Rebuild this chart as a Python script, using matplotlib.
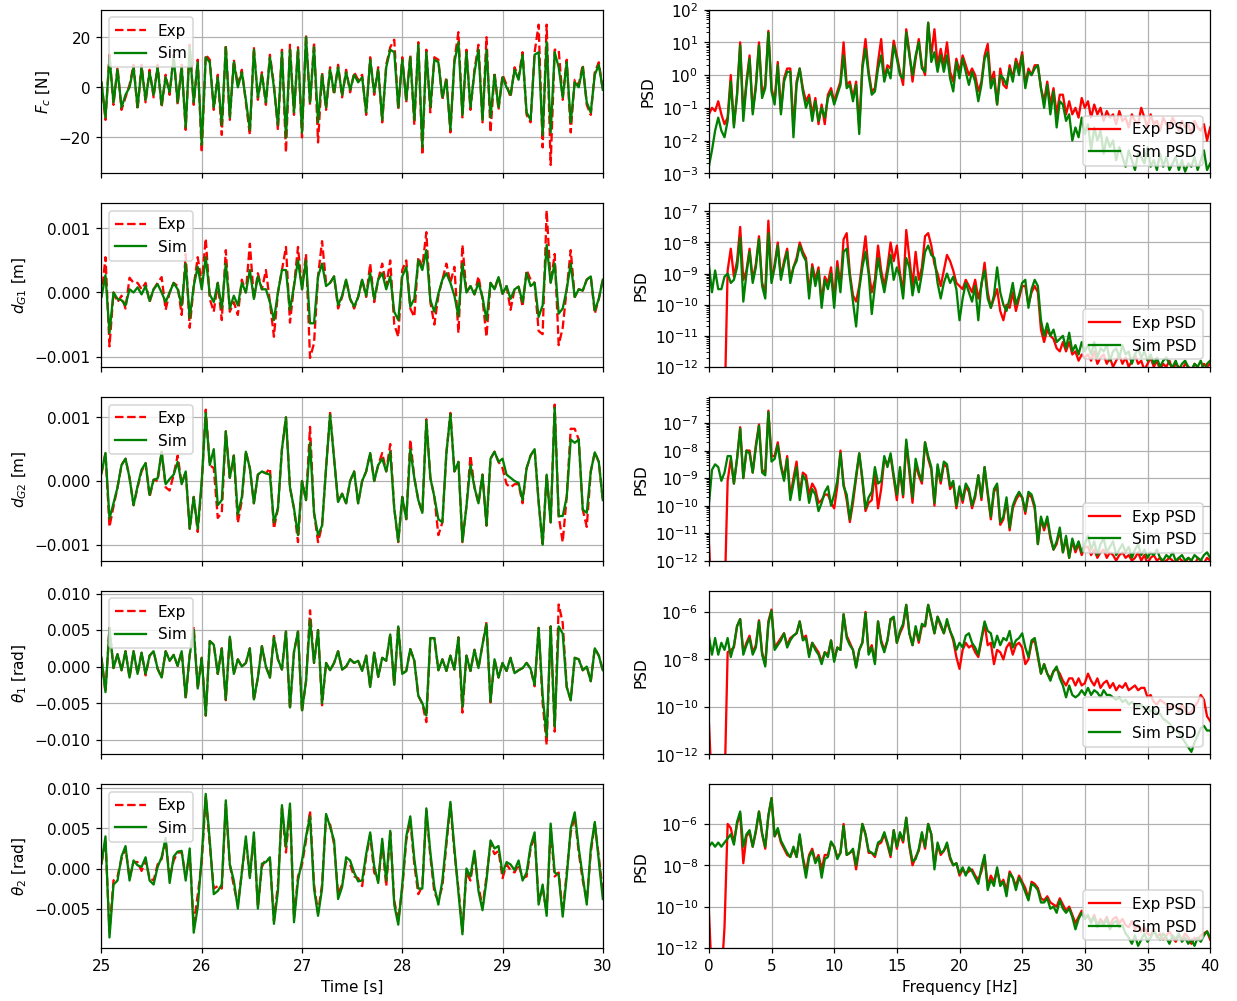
import numpy as np
import matplotlib
matplotlib.use("Agg")
import matplotlib.pyplot as plt

# Sample grids
time = 25.0 + 0.04 * np.arange(126)      # s
freq = 0.25 * np.arange(161)             # Hz

# ---- Time-domain signals ----
# Contact force [N]
fc_exp = [2, -13, 13, -7, 8, -9, -4, 1, 9, -9,
          9, -6, 7, -4, 9, -8, 5, -3, 13, -7,
          9, -17, 17, -7, 11, -26, 13, 11, -9, 5,
          -19, 17, -13, 11, 1, 7, -6, -19, 16, -5,
          6, -7, 13, 1, -17, 15, -26, 17, -11, 16,
          -20, 21, -7, 18, -22, 6, -9, 8, -3, 9,
          -4, 7, -2, 6, 3, 5, -11, 12, -3, 8,
          -14, 9, 16, 19, -9, 12, -6, 13, -15, 18,
          -27, 15, -10, 12, 11, -5, 4, -18, 11, 22,
          -12, 15, -9, 7, 17, -14, 20, -18, 6, -9,
          5, 1, -4, 8, 4, 14, -11, -14, 14, 25,
          -24, 25, -31, 15, 15, -5, 11, -18, 3, 1,
          9, -7, -11, 6, 10, -1]
fc_sim = [2, -12, 12, -6, 7, -8, -3, 0, 8, -8,
          8, -5, 6, -3, 8, -7, 4, -2, 12, -6,
          8, -16, 16, -6, 10, -23, 12, 10, -8, 4,
          -15, 16, -12, 10, 0, 6, -5, -17, 15, -4,
          5, -6, 12, 0, -15, 14, -20, 15, -10, 15,
          -18, 20, -6, 16, -14, 5, -8, 7, -2, 8,
          -3, 6, -1, 5, 2, 4, -10, 11, -2, 7,
          -13, 8, 15, 14, -8, 11, -5, 12, -13, 17,
          -24, 14, -8, 11, 10, -4, 3, -17, 10, 18,
          -11, 14, -8, 6, 15, -13, 15, -12, 5, -8,
          4, 0, -3, 7, 3, 13, -10, -13, 13, 14,
          -19, 18, -18, 14, 8, -4, 10, -14, 2, 0,
          8, -6, -10, 5, 9, -1]

# Gap displacement 1 [1e-4 m]
dg1_exp = [-0.7, 5.5, -8.4, 0, -1.5, -0.5, -2.5, 2.3, 1.5, 1.5,
           0.5, 1.5, -1.5, 0.5, 1.5, 2.4, -2.7, 0, 1.5, 1,
           -3.5, 6, -5.5, 1, 5.5, 1.5, 8.4, -1, -3, 1.5,
           -4.3, 6.6, -3, -1.5, -3.5, 2, 0, 7.6, -1, 3,
           0.5, 3.5, -1.5, -6.9, 0, 3.5, 7.1, -4.7, 1, 7.1,
           0.5, 6, -10.2, -7.9, 2.5, 8, 1.5, 1.5, 2.5, -2.5,
           -0.7, 2, -1, -2.5, -0.7, 2, -0.7, 4.5, -1.5, 2,
           4.5, 1, 5, -5, -6.9, 3.5, 5, -2.5, -3.8, 5.5,
           4, 9.4, -1.5, -5, -0.5, 2, 4.5, 1.5, 4, -6.3,
           7.4, 0, 1, -0.3, 2.5, -1, -6.9, 1.5, 0.5, 2.4,
           -0.2, 1, -2.7, 0.5, 0.9, -2.2, 3.5, 2, 1.5, -6,
           -6.5, 12.8, 1.5, 6, -8.2, -5.5, 0.5, 6.6, -0.7, 0.5,
           0.3, 2, 2.5, -3.3, -1, 2]
dg1_sim = [-0.7, 2.7, -6.3, 0, -1, -1.2, -2, 0.5, 0, 0.8,
           -0.3, 1, -1.3, 0.5, 1.3, 0, -1.5, 0, 1.5, 0.5,
           -2, 4.5, -4, 1, 4, 0.5, 5.5, -0.3, -1.5, 1.5,
           -2.5, 4.5, -2.5, -0.5, -2, 1.5, 0, 3.5, -1, 2.5,
           0.5, 0.5, -1.5, -4.3, 0, 3.5, 3.5, -2.7, 1, 5,
           0.5, 5, -4.8, -4.8, 2.5, 4.5, 1, 1.5, 2.5, -2,
           -0.5, 2, -1, -2.2, -0.7, 2, -0.5, 3, -1, 2,
           3, 0.5, 2.5, -3, -4.3, 2.5, 4, -2.2, -1, 5,
           3.5, 6.6, -1.2, -3, -0.2, 2, 3, 1.5, -0.5, -3.7,
           4.5, 0, 1, -0.3, 1.5, -0.7, -4.3, 1.5, 0.5, 2.4,
           -0.2, 1, -1, 0.5, 0.9, -1.5, 3, 1, 1.5, -3.8,
           -2, 7.4, 1.5, 4.5, -3.3, -2.5, 0.5, 4.5, -0.7, 0.5,
           0.3, 2, 2.5, -2.8, -1, 2]

# Gap displacement 2 [1e-4 m]
dg2_exp = [1.2, 4.4, -7.2, -4, -1, 2.5, 3.5, 0.5, -3.8, -1,
           1.5, 2.8, -2.5, 0.2, 0, 4.6, -1, -1.5, 1.0, 4.0,
           -0.5, 1.5, -7.5, -2.5, -8.0, -0.5, 11.2, 2.5, 2, -5.8,
           -5, 7.8, 0.5, 4, -6.6, -3, 4.6, 2, -3.5, 1.0,
           1.5, 1.2, 2.0, -7.5, -4.3, 5, 10, -1, -4.3, -9.6,
           0, -3, 8.5, -5, -9.6, -7, 2, 10.7, 3.5, -3.3,
           -2, -3.5, 0, 1.5, -3.5, 0, 1.5, 4.4, 0, 2.5,
           4.4, 1.5, 5.8, -4.3, -9.6, -2.5, -6, 6.5, 0.5, -3,
           -5, 9.7, 0.5, -2.5, -8.5, -6.5, 4.4, 10.7, 1.5, 3,
           -9.6, -4, 4, -1, -3.5, 1, -7, 3.5, 4.6, 3,
           2, -0.5, -1, -0.5, -0.5, -3.5, 2, 4, 5, -3.3,
           -10.2, 1, -6.5, 12, -5.5, -9.6, -2.5, 8.2, 8.2, 6.5,
           -4.5, -7.2, 1.5, 4.5, 3, -3]
dg2_sim = [1.2, 4.4, -5.9, -3.5, -1, 2.5, 3.5, 0.5, -3.8, -0.8,
           1.8, 2.8, -2.2, 0.2, 0.4, 4.6, -0.5, 0.3, 1.0, 3.0,
           -0.5, 1.5, -7.5, -2.5, -7.5, 0, 10.7, 2.5, 5, -3.8,
           -3, 7.8, 0.5, 4, -5.3, -2.5, 4.6, 2, -3.5, 1.0,
           1.5, 1.2, 1.0, -6.5, -4.3, 5, 10, -1, -4.3, -8.5,
           0, -3, 6, -5, -8.5, -7, 2, 10.4, 3.5, -3.3,
           -2, -3.5, 0, 1.5, -3.5, 0, 1.5, 4.4, 0, 2.5,
           3.5, 1.5, 4.6, -4.3, -9.5, -2.5, -6, 5, 0.5, -3,
           -5, 9.5, 0.5, -2.5, -6, -6.5, 4.4, 10.5, 1.5, 3,
           -9.5, -4, 2.5, -1, -3.5, 1, -7, 3.5, 4.6, 3,
           3.5, 1, 0.5, 0, -0.3, -3, 2, 4, 5, -3.3,
           -10, 1, -6.5, 11.5, -5.5, -5.5, -2.5, 6.5, 6, 6.5,
           -4.5, -5, 1.5, 4.5, 3, -3]

# Rotation 1 [1e-3 rad]
th1_exp = [1.2, -3.5, 5.3, -0.2, 1.7, -0.5, 2.1, -1.5, 2.1, -1,
           1.9, -1.2, 1.5, 2.1, -0.3, -1.5, 2.1, 0.8, 1.6, 0.1,
           2.1, -4.4, 1.6, 5.5, -3, 1.2, -6.7, 3.5, 3, -1,
           2.5, -4.6, 4.1, -1, 1, 0, 0.5, 2.5, -4.6, -1.5,
           2.8, 0, -1.5, 4.2, 1, -0.4, 4.8, -5.8, 2.0, 4.8,
           -6.2, -2, 7.7, 0.5, 5, -5.3, 0.5, -0.5, 0.5, 2.1,
           -0.4, 0, 1, 0.5, 0.8, -0.6, 1.5, -2.8, 1.9, -1.4,
           1.2, 0.8, 4.4, -2.5, 5.6, -1, -0.6, 2.4, 0.8, -4,
           -5.1, -7.6, 3.9, 3.9, -0.5, 1, -0.6, 1.5, -0.4, 4,
           -6.3, 1.5, -0.6, 2.3, -0.2, 3, 6.1, -4.9, 1, -1.5,
           0.5, -0.6, 1.2, -0.9, -0.5, -0.2, 0.5, -0.3, -2.7, 5.3,
           -5, -10.7, 5.5, -8.9, 8.5, 6, -2.8, -4.6, 1.2, 1,
           -0.5, 0, -2, 2.5, 1.5, -0.5]
th1_sim = [1.2, -3.5, 5.3, -0.2, 1.7, -0.5, 2.1, -1.5, 2.1, -1,
           1.9, -1, 1.5, 2.1, -0.3, -1.5, 2.1, 0.8, 1.6, 0.1,
           2.1, -4.2, 1.6, 5, -3, 1.2, -6.7, 3.5, 3, -1,
           2.5, -4.5, 4.1, -1, 1, 0, 0.5, 2.5, -4.5, -1.5,
           2.8, 0, -1.5, 4, 1, -0.4, 4.8, -5.6, 2.0, 4.8,
           -6, -2, 6.4, 0.5, 5, -5, 0.5, -0.5, 0.5, 2.1,
           -0.4, 0, 1, 0.5, 0.8, -0.6, 1.5, -2.8, 1.9, -1.4,
           1.2, 0.8, 4.4, -2.5, 5.5, -1, -0.6, 2.4, 0.8, -4,
           -5, -6.7, 3.9, 3.9, -0.5, 1, -0.6, 1.5, -0.4, 4,
           -5.5, 1.5, -0.6, 2.3, -0.2, 3, 5.8, -4.8, 1, -1.5,
           0.5, -0.6, 1.2, -0.9, -0.5, -0.2, 0.5, -0.3, -2.5, 5.3,
           -4, -9.6, 5.5, -8.2, 5.5, 4.5, -2.8, -4.6, 1.2, 1,
           -0.5, 0, -2, 2.5, 1.5, -0.5]

# Rotation 2 [1e-3 rad]
th2_exp = [0.6, 3.5, -7.8, -1.5, -1, 1.2, 2.5, -1.2, 0.8, 0.8,
           -0.3, 1.0, -1.2, -1.5, 0.5, 1.2, 3.5, -1.2, 1.0, 2.0,
           2.0, -1.0, 1.8, -7.0, -3.3, 0.8, 9.0, 3.0, -2.5, -2.2,
           -2.5, 8.0, 0.5, -2.2, -4.5, -0.5, 3.5, -1.0, 4.0, -4.8,
           0.2, 1.2, 1.0, -6.5, -2.0, 7.5, 2.0, 7.6, -6.2, -1.0,
           0.5, 3.5, 7.2, -2.0, -5.5, -2.0, 6.5, 5.5, 3.0, -3.2,
           -2.0, 0.8, 0.5, -1.0, -1.2, -2.2, 1.5, 4.2, -0.5, -1.5,
           3.2, -2.2, 4.5, -4.0, -6.5, -2.5, 3.5, 6.0, 0.5, -3.2,
           -2.2, 7.2, 1.5, -3.0, -4.0, -2.2, 3.0, 8.0, 2.0, -2.5,
           -7.8, -0.5, -1.5, 1.8, -2.2, -4.8, -1.0, 3.0, 1.8, 2.2,
           -1.2, 0.5, -0.2, -0.5, 0.5, -1.2, -1.0, 2.5, 4.0, -4.0,
           -2.5, -5.5, 5.0, -1.0, -0.5, -5.5, -0.5, 4.5, 6.5, 2.0,
           -1.5, -4.0, 2.0, 5.5, 1.5, -3.0]
th2_sim = [0.6, 4.0, -8.6, -2, -1.5, 1.5, 2.8, -1.5, 1, 0.4,
           0.2, 1.4, -1.5, -2, 0.2, 1.4, 3.8, -1.8, 1.5, 2.1,
           2.2, -1.5, 2.5, -8, -4.8, 1.5, 9.3, 3.5, -3.2, -2.8,
           -2, 8.5, 0.5, -1.5, -5, -0.5, 4, -1.2, 4.5, -5,
           0.6, 0.8, 1.4, -6.9, -2.8, 7.9, 2.7, 8.1, -6.7, -1.5,
           1, 4, 6.5, -2.5, -5.9, -2.5, 6.8, 5.2, 3.5, -3.8,
           -2.3, 1.4, 1, -0.5, -1.6, -1.5, 1.8, 4.5, 0.3, -1.8,
           3.7, -1.5, 4.7, -4.5, -7, -2, 4, 6.5, 1.2, -2.5,
           -2.5, 7.5, 2, -2.3, -4.5, -1.5, 3.5, 8.3, 2.5, -3,
           -8.2, 0, -1, 2.2, -2.8, -5.2, -1.5, 3.5, 2.5, 2.8,
           -0.6, 0.8, 0.5, -0.2, 1, -1.5, -0.5, 2.8, 4.5, -4.5,
           -2, -5.9, 5.6, -0.5, -0.8, -6, -1, 5, 7, 2.5,
           -1, -4.5, 2.5, 5.8, 1, -3.8]

# ---- Power spectral densities, log10 values ----
psd_fc_exp = [-1.2, -1.0, -1.1, -0.8, -1.2, -1.5, -1.3, 0.0,
              -1.5, -0.6, 1.0, -1.2, -0.2, 0.6, -1.1, -0.3,
              1.0, -0.6, -0.3, 1.35, -0.4, -0.8, 0.4, -1.1,
              -0.1, 0.2, 0.2, -1.6, -0.2, 0.2, -0.4, -0.8,
              -0.6, -1.2, -0.7, -1.5, -0.9, -1.5, -0.6, -0.4,
              -0.8, -0.5, -0.2, 1.0, -0.3, -0.2, -0.7, -0.2,
              -1.6, 0.3, 1.1, 0.1, -0.5, -0.4, 0.4, 1.1,
              -0.1, 0.3, 0.2, 1.05, 0.6, 0.1, -0.3, 1.4,
              0.7, -0.2, 0.5, 1.1, 0.3, 0.0, 1.6, 0.6,
              1.4, 0.3, 0.8, 0.3, 1.0, 0.1, -0.2, 0.5,
              0.1, 0.6, 0.3, 0.0, 0.2, 0.0, -0.5, -0.2,
              0.6, 0.95, -0.2, 0.1, -0.9, 0.2, -0.3, -0.4,
              0.3, -0.1, 0.5, 0.2, 0.7, -0.3, 0.2, 0.0,
              0.3, 0.3, -0.4, -0.8, -0.2, -0.9, -0.4, -1.2,
              -0.6, -0.6, -1.2, -0.8, -1.2, -1.0, -1.3, -0.7,
              -1.0, -0.8, -1.3, -0.9, -1.2, -1.0, -1.4, -1.1,
              -1.3, -1.2, -1.5, -1.1, -1.4, -1.3, -1.6, -1.2,
              -1.4, -1.5, -1.0, -1.3, -1.6, -1.2, -1.5, -1.4,
              -1.7, -1.3, -1.5, -1.6, -1.3, -1.5, -1.7, -1.4,
              -1.6, -1.5, -1.8, -1.4, -1.6, -1.7, -1.5, -2.0,
              -1.6]
psd_fc_sim = [-2.8, -2.3, -1.7, -1.3, -1.7, -1.9, -1.4, -0.2,
              -1.6, -0.6, 0.9, -1.4, -0.3, 0.5, -1.2, -0.4,
              0.9, -0.7, -0.4, 1.3, -0.5, -0.9, 0.3, -1.2,
              -0.2, 0.1, 0.1, -1.9, -0.3, 0.2, -0.5, -1.0,
              -0.7, -1.4, -0.8, -1.4, -1.0, -1.3, -0.7, -0.5,
              -0.9, -0.6, -0.3, 0.6, -0.4, -0.3, -0.8, -0.3,
              -1.8, 0.2, 0.8, 0.0, -0.6, -0.5, 0.2, 0.6,
              -0.2, 0.2, -0.1, 0.9, 0.5, 0.0, -0.1, 1.3,
              0.6, 0.0, 0.6, 1.0, 0.2, 0.1, 1.6, 0.4,
              0.7, 0.1, 0.6, 0.1, 0.6, -0.1, -0.5, 0.4,
              -0.1, 0.5, 0.1, -0.3, 0.1, -0.2, -0.8, -0.3,
              0.5, 0.7, -0.4, -0.1, -0.9, 0.0, -0.1, -0.3,
              0.2, -0.2, 0.4, 0.0, 0.6, -0.4, 0.1, 0.0,
              0.2, 0.3, -0.4, -1.0, -0.3, -1.2, -0.5, -1.6,
              -0.8, -0.9, -1.4, -1.2, -2.0, -1.6, -1.9, -1.3,
              -1.8, -1.5, -2.3, -1.6, -2.0, -1.7, -2.4, -1.9,
              -2.2, -2.0, -2.6, -2.2, -2.5, -2.8, -2.3, -2.6,
              -2.9, -2.4, -2.5, -2.7, -2.2, -2.8, -2.6, -2.9,
              -2.4, -2.8, -2.5, -2.9, -2.7, -2.5, -2.9, -2.6,
              -2.95, -2.7, -2.8, -2.5, -2.9, -2.6, -2.3, -2.9,
              -2.7]

psd_dg1_exp = [-13.5, -13.5, -13.5, -13.5, -13.5, -13.5, -8.9, -8.2,
               -9.1, -8.6, -7.5, -9.2, -8.9, -8.2, -9.2, -8.7,
               -7.8, -9.3, -9.6, -7.3, -9.2, -8.7, -8.0, -9.1,
               -8.6, -8.2, -9.2, -8.8, -8.5, -8.0, -8.3, -8.5,
               -9.6, -8.7, -9.2, -8.8, -9.9, -9.1, -9.3, -8.8,
               -9.8, -8.6, -9.4, -7.9, -7.7, -9.0, -9.7, -9.9,
               -9.4, -8.6, -7.8, -8.9, -9.6, -9.2, -8.1, -8.9,
               -9.4, -8.8, -8.0, -8.6, -8.1, -9.0, -9.6, -7.6,
               -8.5, -9.4, -8.3, -9.2, -8.8, -7.8, -7.7, -8.1,
               -8.7, -9.0, -9.4, -8.9, -8.4, -8.6, -8.9, -9.3,
               -9.4, -9.5, -9.2, -9.4, -9.6, -9.2, -9.8, -9.4,
               -8.65, -9.6, -10.1, -9.8, -9.5, -10.2, -10.5, -10.0,
               -10.1, -9.6, -10.2, -9.8, -9.4, -9.4, -10.0, -9.6,
               -9.4, -9.6, -10.8, -11.2, -10.8, -11.0, -11.1, -11.4,
               -11.5, -11.2, -11.5, -11.2, -11.6, -11.5, -11.8, -11.6,
               -11.7, -11.6, -11.8, -11.5, -11.9, -11.7, -11.6, -11.9,
               -11.7, -12.0, -11.8, -11.6, -11.9, -11.7, -12.0, -11.8,
               -11.6, -11.9, -11.8, -12.1, -11.9, -11.7, -12.0, -11.8,
               -12.1, -11.9, -12.0, -11.8, -12.1, -11.9, -12.0, -12.1,
               -11.9, -12.0, -12.2, -11.9, -12.0, -12.1, -11.9, -12.0,
               -11.9]
psd_dg1_sim = [-8.7, -9.6, -8.9, -9.5, -9.5, -9.1, -9.0, -9.3,
               -9.2, -8.8, -7.85, -9.9, -9.0, -8.3, -9.3, -8.8,
               -7.9, -9.4, -9.8, -7.7, -9.3, -8.8, -8.1, -9.2,
               -8.7, -8.3, -9.3, -8.8, -8.6, -8.1, -8.4, -8.6,
               -9.8, -8.8, -9.4, -8.9, -10.1, -9.2, -9.5, -9.0,
               -10.1, -8.8, -9.6, -8.3, -8.2, -9.1, -9.9, -10.7,
               -9.5, -8.8, -8.3, -9.0, -10.3, -9.4, -8.5, -9.1,
               -9.6, -9.0, -8.4, -9.2, -8.8, -9.1, -9.8, -8.5,
               -8.8, -9.7, -9.1, -9.6, -9.0, -8.3, -8.1, -8.4,
               -8.5, -9.3, -9.8, -9.3, -9.0, -9.3, -9.1, -9.5,
               -10.5, -9.8, -9.3, -9.6, -9.9, -9.4, -10.5, -9.3,
               -8.9, -9.8, -10.1, -9.7, -8.8, -9.6, -10.0, -10.2,
               -9.8, -9.3, -10.0, -9.7, -9.3, -9.2, -10.1, -9.5,
               -9.2, -9.4, -10.5, -11.0, -10.6, -11.0, -10.8, -11.2,
               -11.1, -11.0, -11.4, -10.9, -11.5, -11.3, -11.6, -11.2,
               -11.5, -11.3, -11.6, -11.2, -11.7, -11.4, -11.5, -11.3,
               -11.8, -11.5, -11.4, -11.7, -11.3, -11.6, -11.5, -11.9,
               -11.6, -11.4, -11.7, -11.5, -11.8, -11.6, -11.9, -11.7,
               -12.0, -11.8, -11.7, -11.9, -12.0, -11.8, -12.1, -11.9,
               -11.8, -12.0, -12.1, -11.9, -12.0, -11.8, -12.1, -11.9,
               -11.8]

psd_dg2_exp = [-11.3, -13.5, -13.5, -13.5, -13.5, -13.5, -9.1, -8.3,
               -9.2, -8.3, -7.15, -9.0, -8.0, -8.0, -8.8, -7.8,
               -7.05, -8.7, -8.8, -6.55, -8.2, -8.2, -7.7, -8.5,
               -9.0, -8.2, -9.7, -9.0, -8.4, -9.6, -8.8, -8.9,
               -9.6, -9.2, -9.4, -9.9, -9.8, -9.6, -9.6, -9.9,
               -10.1, -9.3, -8.0, -9.2, -9.8, -10.6, -9.9, -9.0,
               -8.1, -9.1, -10.2, -9.9, -9.8, -8.8, -10.1, -9.4,
               -8.3, -8.5, -8.2, -9.0, -9.8, -8.7, -9.7, -7.7,
               -8.8, -9.9, -8.5, -8.9, -9.2, -7.7, -8.3, -8.7,
               -10.0, -8.6, -9.2, -8.5, -8.6, -9.4, -9.2, -10.1,
               -9.4, -9.9, -9.3, -9.5, -10.1, -9.7, -8.9, -9.8,
               -8.6, -9.6, -10.5, -9.5, -9.3, -10.7, -10.5, -9.8,
               -10.9, -10.1, -9.8, -9.6, -9.7, -10.3, -9.6, -9.7,
               -10.1, -11.4, -10.5, -10.9, -10.5, -11.2, -11.6, -11.4,
               -10.9, -11.7, -11.2, -11.9, -11.3, -11.7, -11.4, -11.8,
               -11.5, -11.5, -11.8, -11.6, -11.9, -11.7, -11.6, -11.9,
               -11.7, -11.8, -12.0, -11.8, -11.7, -11.9, -11.8, -12.0,
               -11.9, -11.7, -12.0, -11.8, -12.1, -11.9, -11.8, -12.0,
               -11.9, -12.1, -12.0, -11.9, -12.0, -12.1, -11.9, -12.0,
               -12.1, -11.9, -12.0, -12.2, -11.9, -12.0, -12.1, -11.9,
               -12.0]
psd_dg2_sim = [-10.0, -8.7, -8.5, -8.6, -9.1, -8.8, -8.2, -8.2,
               -9.2, -8.3, -7.2, -9.0, -8.0, -8.1, -8.8, -7.9,
               -7.1, -8.8, -8.9, -6.6, -8.4, -8.3, -7.8, -8.6,
               -9.1, -8.3, -9.8, -9.2, -8.6, -9.8, -8.9, -9.1,
               -9.9, -9.4, -9.6, -10.2, -9.9, -9.5, -9.3, -10.0,
               -9.6, -9.1, -8.1, -9.3, -9.6, -10.5, -9.7, -8.9,
               -8.1, -9.0, -10.1, -9.7, -9.5, -8.6, -9.2, -9.1,
               -8.2, -8.6, -8.1, -8.9, -9.6, -8.6, -9.6, -7.6,
               -8.6, -9.7, -8.3, -8.8, -9.1, -7.7, -8.2, -8.6,
               -9.9, -8.5, -9.1, -8.4, -8.5, -9.3, -9.1, -10.0,
               -9.3, -9.8, -9.2, -9.4, -10.0, -9.6, -8.9, -9.7,
               -8.6, -9.5, -10.4, -9.4, -9.2, -10.6, -10.4, -9.7,
               -10.8, -10.0, -9.7, -9.5, -9.7, -10.2, -9.5, -9.6,
               -10.0, -11.4, -10.4, -10.8, -10.4, -11.1, -11.6, -11.3,
               -10.8, -11.7, -11.1, -11.9, -11.2, -11.6, -11.3, -11.7,
               -11.4, -11.1, -11.6, -11.3, -11.8, -11.4, -11.2, -11.7,
               -11.5, -11.3, -11.8, -11.6, -11.4, -11.7, -11.5, -11.9,
               -11.6, -11.4, -11.8, -11.6, -11.9, -11.7, -11.8, -11.6,
               -11.9, -12.0, -11.8, -11.9, -11.7, -12.0, -11.9, -11.8,
               -12.0, -11.9, -12.0, -11.8, -11.9, -12.0, -11.8, -11.7,
               -11.9]

psd_th1_exp = [-10.6, -13.5, -13.5, -13.5, -13.5, -13.5, -7.7, -7.6,
               -7.5, -6.6, -6.3, -7.7, -7.3, -7.0, -7.7, -7.4,
               -6.35, -7.7, -8.2, -6.4, -5.9, -7.5, -7.3, -7.1,
               -6.9, -7.4, -7.1, -7.0, -6.9, -6.4, -7.1, -7.0,
               -7.8, -7.3, -7.5, -7.7, -8.1, -7.7, -7.8, -7.2,
               -8.0, -7.5, -7.6, -6.1, -7.0, -7.3, -7.6, -8.3,
               -7.6, -7.3, -6.0, -7.7, -7.4, -8.1, -6.4, -7.2,
               -7.6, -7.2, -6.3, -6.3, -7.3, -6.9, -6.6, -5.7,
               -6.9, -7.4, -6.7, -7.3, -6.6, -6.6, -5.7, -6.3,
               -6.9, -6.2, -6.6, -6.9, -6.4, -6.8, -7.2, -7.9,
               -8.4, -7.6, -7.3, -7.5, -7.4, -7.7, -7.9, -7.2,
               -6.5, -7.4, -7.3, -8.2, -7.6, -7.7, -8.0, -7.5,
               -7.3, -7.8, -7.4, -7.3, -7.5, -8.2, -8.0, -7.3,
               -7.2, -7.9, -8.6, -8.2, -8.6, -8.8, -8.5, -8.4,
               -8.6, -8.9, -9.1, -8.8, -8.8, -9.1, -8.8, -9.1,
               -9.0, -8.6, -8.9, -9.1, -8.8, -9.2, -9.0, -8.9,
               -9.2, -9.0, -9.3, -9.1, -9.2, -9.0, -9.3, -9.2,
               -9.1, -9.3, -9.2, -9.2, -9.6, -9.5, -9.8, -9.9,
               -9.7, -9.8, -9.9, -10.1, -9.9, -10.0, -10.2, -9.9,
               -10.1, -10.3, -10.2, -10.0, -9.8, -9.5, -9.7, -10.4,
               -10.6]
psd_th1_sim = [-7.0, -7.8, -7.1, -7.8, -7.3, -7.6, -7.1, -7.9,
               -7.4, -6.6, -6.3, -7.8, -7.4, -7.1, -7.8, -7.5,
               -6.4, -7.8, -8.3, -6.5, -5.95, -7.6, -7.4, -7.2,
               -6.9, -7.5, -7.2, -7.0, -6.9, -6.4, -7.2, -7.1,
               -7.9, -7.3, -7.6, -7.8, -8.2, -7.7, -7.9, -7.2,
               -8.1, -7.5, -7.6, -6.1, -7.1, -7.4, -7.6, -8.35,
               -7.6, -7.3, -6.05, -7.8, -7.5, -8.2, -6.4, -7.3,
               -7.7, -7.2, -6.3, -6.2, -7.3, -6.8, -6.5, -5.7,
               -6.9, -7.4, -6.6, -7.2, -6.5, -6.6, -5.7, -6.25,
               -6.9, -6.2, -6.5, -6.9, -6.3, -6.8, -7.1, -7.6,
               -7.3, -7.5, -7.0, -6.9, -7.3, -7.5, -7.8, -7.1,
               -6.4, -6.8, -6.9, -7.5, -7.0, -7.4, -7.1, -7.2,
               -6.8, -7.5, -7.2, -7.1, -6.9, -7.5, -7.9, -7.2,
               -7.1, -7.8, -8.6, -8.2, -8.6, -8.9, -8.5, -8.3,
               -8.8, -9.1, -9.6, -9.1, -9.5, -9.6, -9.5, -9.3,
               -9.5, -9.2, -9.5, -9.3, -9.4, -9.6, -9.3, -9.5,
               -9.5, -9.6, -9.7, -9.6, -9.8, -9.7, -9.9, -9.8,
               -9.9, -10.0, -9.9, -10.1, -10.0, -10.2, -10.1, -10.3,
               -10.3, -10.5, -10.6, -10.7, -10.9, -11.0, -11.1, -11.3,
               -11.5, -11.7, -11.9, -11.5, -11.2, -10.9, -10.8, -11.0,
               -11.0]

psd_th2_exp = [-10.2, -13.5, -13.5, -13.5, -13.5, -11.0, -6.0, -6.2,
               -6.9, -6.0, -5.5, -7.9, -6.6, -6.4, -7.1, -6.4,
               -5.4, -6.5, -7.2, -5.6, -4.75, -6.6, -6.3, -6.9,
               -7.2, -7.5, -7.6, -7.2, -7.6, -6.6, -7.6, -8.3,
               -7.5, -7.2, -7.8, -7.5, -8.2, -7.5, -7.5, -6.9,
               -7.1, -7.6, -7.4, -6.0, -7.5, -7.4, -7.3, -8.2,
               -7.2, -6.0, -6.5, -7.4, -7.4, -7.6, -7.0, -6.9,
               -6.5, -7.0, -7.6, -6.3, -7.2, -6.5, -6.9, -5.7,
               -7.1, -8.0, -7.6, -7.3, -6.5, -7.2, -6.0, -6.5,
               -8.0, -7.0, -7.5, -7.3, -7.0, -7.7, -8.0, -7.9,
               -8.5, -8.2, -8.4, -8.3, -8.2, -8.5, -8.7, -8.3,
               -7.6, -9.0, -8.5, -8.8, -8.2, -8.9, -8.7, -9.2,
               -8.3, -8.6, -9.0, -8.5, -8.8, -9.1, -9.6, -8.8,
               -8.9, -9.1, -9.6, -9.7, -9.5, -9.8, -9.9, -10.0,
               -9.6, -9.9, -10.2, -10.0, -10.4, -10.8, -10.5, -10.2,
               -10.5, -10.5, -10.7, -10.4, -10.9, -10.6, -10.8, -10.5,
               -10.9, -10.6, -10.5, -10.8, -10.6, -10.9, -11.0, -10.7,
               -11.1, -10.9, -11.2, -11.0, -11.3, -11.4, -11.1, -11.5,
               -11.3, -11.6, -11.4, -11.2, -11.5, -11.7, -11.4, -11.6,
               -11.3, -11.5, -11.8, -11.5, -11.6, -11.4, -11.3, -11.2,
               -11.6]
psd_th2_sim = [-7.1, -6.9, -7.1, -6.9, -7.1, -6.9, -6.7, -6.5,
               -7.0, -5.9, -5.4, -7.1, -6.5, -6.3, -7.1, -6.3,
               -5.4, -6.45, -7.1, -5.6, -4.75, -6.6, -6.2, -6.8,
               -7.1, -7.4, -7.6, -7.1, -7.6, -6.5, -7.7, -8.6,
               -7.6, -7.3, -7.9, -7.6, -8.6, -7.7, -7.6, -6.85,
               -7.1, -7.7, -7.4, -6.1, -7.5, -7.4, -7.2, -8.0,
               -7.1, -6.0, -6.5, -7.3, -7.4, -7.5, -6.9, -6.8,
               -6.4, -6.9, -7.5, -6.3, -7.1, -6.4, -6.8, -5.7,
               -7.0, -7.8, -7.7, -7.2, -6.4, -7.1, -6.0, -6.5,
               -8.2, -6.9, -7.4, -7.3, -6.9, -7.6, -8.0, -7.9,
               -8.4, -8.1, -8.5, -8.1, -8.3, -8.6, -8.9, -8.1,
               -7.5, -9.2, -8.7, -9.0, -8.1, -9.0, -8.8, -9.5,
               -8.4, -8.6, -9.2, -8.6, -8.9, -9.3, -9.7, -8.9,
               -9.0, -9.2, -9.8, -9.8, -9.6, -10.1, -10.0, -10.3,
               -9.7, -10.1, -10.3, -10.1, -10.5, -11.1, -10.6, -10.3,
               -10.6, -10.4, -10.8, -10.5, -11.0, -10.7, -10.9, -10.6,
               -11.1, -10.8, -10.7, -11.0, -10.9, -11.3, -11.5, -11.8,
               -11.4, -11.9, -11.6, -11.3, -11.7, -11.5, -11.2, -11.4,
               -11.6, -11.3, -11.5, -11.8, -11.4, -11.6, -11.3, -11.7,
               -11.5, -11.8, -11.6, -11.9, -11.5, -11.7, -11.4, -11.2,
               -11.5]

# ---- Panel setup ----
time_panels = [
    (fc_exp, fc_sim, 1.0, r"$F_c$ [N]", (-34.3, 31.0), [-20, 0, 20]),
    (dg1_exp, dg1_sim, 1e-4, r"$d_{G1}$ [m]", (-0.00116, 0.00139), [-0.001, 0.0, 0.001]),
    (dg2_exp, dg2_sim, 1e-4, r"$d_{G2}$ [m]", (-0.00125, 0.00132), [-0.001, 0.0, 0.001]),
    (th1_exp, th1_sim, 1e-3, r"$\theta_1$ [rad]", (-0.0120, 0.0104),
     [-0.010, -0.005, 0.0, 0.005, 0.010]),
    (th2_exp, th2_sim, 1e-3, r"$\theta_2$ [rad]", (-0.0099, 0.0105),
     [-0.005, 0.0, 0.005, 0.010]),
]
psd_panels = [
    (psd_fc_exp, psd_fc_sim, (1e-3, 1e2), [-3, -2, -1, 0, 1, 2]),
    (psd_dg1_exp, psd_dg1_sim, (1e-12, 10 ** -6.74), [-12, -11, -10, -9, -8, -7]),
    (psd_dg2_exp, psd_dg2_sim, (1e-12, 10 ** -6.05), [-12, -11, -10, -9, -8, -7]),
    (psd_th1_exp, psd_th1_sim, (1e-12, 10 ** -5.1), [-12, -10, -8, -6]),
    (psd_th2_exp, psd_th2_sim, (1e-12, 10 ** -4.08), [-12, -10, -8, -6]),
]

DPI = 110
fig, axes = plt.subplots(5, 2, figsize=(1237.4 / DPI, 1001.4 / DPI), dpi=DPI, sharex="col")
fig.subplots_adjust(left=0.082, right=0.978, top=0.990, bottom=0.053,
                    wspace=0.2115, hspace=0.1834)

for i, (exp_v, sim_v, scale, ylab, ylim, yticks) in enumerate(time_panels):
    ax = axes[i, 0]
    ax.plot(time, np.array(exp_v) * scale, color="red", linestyle="--", lw=1.5, label="Exp")
    ax.plot(time, np.array(sim_v) * scale, color="green", lw=1.5, label="Sim")
    ax.set_xlim(25, 30)
    ax.set_ylim(*ylim)
    ax.set_yticks(yticks)
    if scale != 1.0:
        ax.set_yticklabels([f"{v:.3f}".replace("-", "\u2212") if v != 0 else "0.000"
                            for v in yticks])
    ax.set_ylabel(ylab)
    ax.grid(True)
    ax.legend(loc="upper left")

for i, (exp_l, sim_l, ylim, dec) in enumerate(psd_panels):
    ax = axes[i, 1]
    ax.semilogy(freq, 10 ** np.array(exp_l), color="red", lw=1.5, label="Exp PSD")
    ax.semilogy(freq, 10 ** np.array(sim_l), color="green", lw=1.5, label="Sim PSD")
    ax.set_xlim(0, 40)
    ax.set_ylim(*ylim)
    ax.set_yticks([10.0 ** d for d in dec])
    ax.set_ylabel("PSD")
    ax.grid(True)
    ax.legend(loc="lower right")

axes[4, 0].set_xlabel("Time [s]")
axes[4, 1].set_xlabel("Frequency [Hz]")
axes[4, 0].set_xticks([25, 26, 27, 28, 29, 30])
axes[4, 1].set_xticks([0, 5, 10, 15, 20, 25, 30, 35, 40])

fig.savefig("out.png", dpi=DPI)
